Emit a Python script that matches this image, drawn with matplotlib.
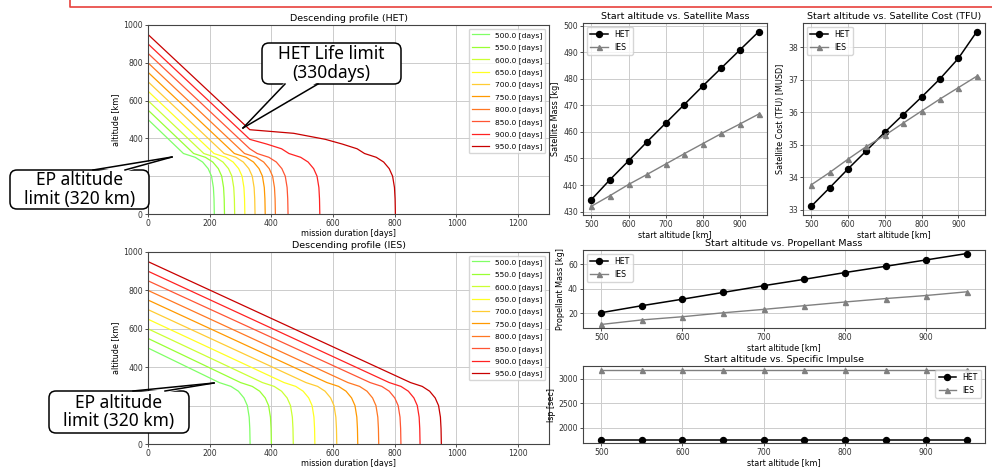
import matplotlib
matplotlib.use("Agg")
import matplotlib.pyplot as plt
from matplotlib.lines import Line2D
from matplotlib.patches import Polygon, FancyBboxPatch
from matplotlib.transforms import IdentityTransform

W, H = 992, 467

# start altitudes of the descending profiles
start_alt = [500, 550, 600, 650, 700, 750, 800, 850, 900, 950]
curve_colors = ["#80ff66", "#99ff33", "#ccff33", "#ffff22", "#ffcc33",
                "#ff9900", "#ff7722", "#ff5533", "#ff2222", "#c80000"]

# natural decay: days left until re-entry vs altitude
decay_alt = [446, 427, 395, 370, 345, 320, 300, 275, 240, 200, 140, 80, 0]
decay_left = [472, 330, 227, 172, 124, 100, 62, 38, 20, 9, 3, 1, 0]

# end of thrusting (day, altitude) for each profile
het_stop_day = [115, 148, 181, 214, 247, 280, 313, 330, 330, 330]
het_stop_alt = [320, 320, 320, 320, 320, 320, 320, 345, 395, 446]
ies_stop_day = [231, 300, 371, 441, 512, 580, 648, 720, 782, 851]
ies_stop_alt = [320, 320, 320, 320, 320, 320, 320, 320, 320, 320]

# right hand panels
het_mass = [434.5, 442.0, 449.1, 456.3, 463.3, 470.3, 477.3, 484.1, 490.9, 497.7]
ies_mass = [432.0, 436.0, 440.2, 444.0, 447.9, 451.8, 455.6, 459.4, 463.0, 466.7]
het_cost = [33.11, 33.68, 34.26, 34.82, 35.39, 35.93, 36.47, 37.03, 37.66, 38.48]
ies_cost = [33.77, 34.15, 34.56, 34.95, 35.29, 35.67, 36.04, 36.41, 36.76, 37.11]
het_prop = [20.4, 26.1, 31.4, 36.9, 42.4, 47.6, 53.1, 58.2, 63.4, 68.6]
ies_prop = [10.8, 14.5, 17.1, 20.3, 23.1, 26.1, 29.1, 31.9, 34.4, 37.4]
het_isp = [1760] * 10
ies_isp = [3190] * 10

plt.rcParams["font.family"] = "DejaVu Sans"
fig = plt.figure(figsize=(W / 100, H / 100), dpi=100)


def add_ax(l, t, r, b):
    ax = fig.add_axes([l / W, 1 - b / H, (r - l) / W, (b - t) / H])
    ax.grid(True, color="#cccccc", lw=0.7)
    ax.set_axisbelow(True)
    ax.tick_params(labelsize=5.6, length=2.5, width=0.6, pad=1.2, colors="#333333")
    for s in ax.spines.values():
        s.set_linewidth(0.8)
        s.set_color("#444444")
    return ax


def profile(ax, stop_day, stop_alt, title):
    for h0, sd, sa, c in zip(start_alt, stop_day, stop_alt, curve_colors):
        t_left = decay_left[decay_alt.index(sa)]
        xs = [0, sd] + [sd + t_left - tl for h, tl in zip(decay_alt, decay_left) if h < sa]
        ys = [h0, sa] + [h for h in decay_alt if h < sa]
        ax.plot(xs, ys, color=c, lw=0.9, label=f"{h0:.1f} [days]")
    ax.set_xlim(0, 1300)
    ax.set_ylim(0, 1000)
    ax.set_xticks(range(0, 1201, 200))
    ax.set_yticks(range(0, 1001, 200))
    ax.set_title(title, fontsize=6.8, pad=3)
    ax.set_xlabel("mission duration [days]", fontsize=5.8, labelpad=0.8)
    ax.set_ylabel("altitude [km]", fontsize=5.8, labelpad=2)
    ax.legend(loc="upper right", fontsize=5.4, handlelength=2.3, labelspacing=0.72)


def compare(ax, het, ies, title, ylabel, loc="upper left"):
    ax.plot(start_alt, het, color="black", marker="o", ms=4.3, lw=1.1, label="HET")
    ax.plot(start_alt, ies, color="#808080", marker="^", ms=3.6, lw=1.0, label="IES")
    ax.set_xticks([500, 600, 700, 800, 900])
    ax.set_title(title, fontsize=6.8, pad=3)
    ax.set_xlabel("start altitude [km]", fontsize=5.8, labelpad=0.8)
    ax.set_ylabel(ylabel, fontsize=5.8, labelpad=2)
    ax.legend(loc=loc, fontsize=5.6, handlelength=2.3)


profile(add_ax(148, 25, 549, 214), het_stop_day, het_stop_alt, "Descending profile (HET)")
profile(add_ax(148, 252, 549, 444), ies_stop_day, ies_stop_alt, "Descending profile (IES)")

compare(add_ax(583, 23, 767, 215), het_mass, ies_mass,
        "Start altitude vs. Satellite Mass", "Satellite Mass [kg]")
compare(add_ax(803, 23, 985, 215), het_cost, ies_cost,
        "Start altitude vs. Satellite Cost (TFU)", "Satellite Cost (TFU) [MUSD]")
compare(add_ax(583, 250, 985, 328), het_prop, ies_prop,
        "Start altitude vs. Propellant Mass", "Propellant Mass [kg]")
compare(add_ax(583, 366, 985, 443), het_isp, ies_isp,
        "Start altitude vs. Specific Impulse", "Isp [sec]", loc="upper right")

# callouts, in image pixels (origin top left)
idt = IdentityTransform()


def callout(text, box, base, tip):
    x0, y0, x1, y1 = box
    fig.add_artist(FancyBboxPatch((x0, H - y1), x1 - x0, y1 - y0,
                                  boxstyle="round,pad=0,rounding_size=7",
                                  fc="white", ec="black", lw=1.1,
                                  transform=idt, zorder=10))
    (bx0, by0), (bx1, by1) = base
    inward = 2 if tip[1] > y1 else -2
    fig.add_artist(Polygon([(bx0, H - by0 + inward), (bx1, H - by1 + inward), (tip[0], H - tip[1])],
                           closed=True, fc="white", ec="none", transform=idt, zorder=11))
    for bx, by in base:
        fig.add_artist(Line2D([bx, tip[0]], [H - by, H - tip[1]], color="black",
                              lw=1.1, transform=idt, zorder=12))
    fig.text((x0 + x1) / 2, H - (y0 + y1) / 2, text, transform=idt,
             ha="center", va="center", fontsize=12.5, family="Noto Sans",
             linespacing=1.05, zorder=13)


callout("HET Life limit\n(330days)", (262, 43, 401, 84), [(285, 84), (318, 84)], (243, 128))
callout("EP altitude\nlimit (320 km)", (10, 170, 149, 209), [(93, 170), (125, 170)], (172, 157))
callout("EP altitude\nlimit (320 km)", (49, 391, 189, 433), [(133, 391), (165, 391)], (214, 383))

# edge of the slide title box above the figure
fig.add_artist(Line2D([70, 70, W], [H, H - 7, H - 7], color="#e8413c", lw=1.2,
                      transform=idt, zorder=5))

fig.savefig("out.png", dpi=100)
